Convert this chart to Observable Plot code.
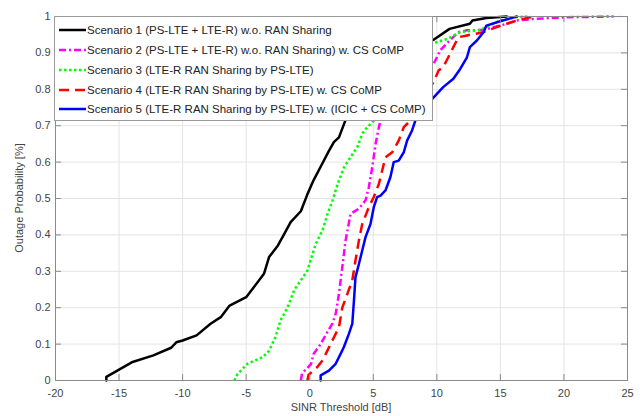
<!DOCTYPE html>
<html>
<head>
<meta charset="utf-8">
<script src="https://cdn.jsdelivr.net/npm/d3@7"></script>
<script src="https://cdn.jsdelivr.net/npm/@observablehq/plot@0.6"></script>
<style>
  html, body { margin: 0; padding: 0; background: #fff; }
  body { font-family: "Liberation Sans", Arial, Helvetica, sans-serif; }
  #wrap { position: relative; width: 642px; height: 416px; overflow: hidden; }
  #legend { position: absolute; left: 54px; top: 16px; width: 379px; height: 105px; box-sizing: border-box;
            border: 1px solid #9a9a9a; background: #fff; padding: 3.5px 0 0 4px; }
  .row { height: 19.75px; display: flex; align-items: center; font-size: 11.5px; color: #222; white-space: nowrap; }
  .row svg { flex: none; margin-right: 1px; }
  #xlabel { position: absolute; left: 0; width: 682px; top: 401px; text-align: center; font-size: 11px; color: #444; }
  #ylabel { position: absolute; left: 19px; top: 198px; font-size: 11px; color: #444; white-space: nowrap;
            transform: translate(-50%, -50%) rotate(-90deg); }
</style>
</head>
<body>
<div id="wrap">
  <div id="chart"></div>
  <div id="legend"></div>
  <div id="xlabel">SINR Threshold [dB]</div>
  <div id="ylabel">Outage Probability [%]</div>
</div>
<script>
// ---- data ----
const xTicks = [-20, -15, -10, -5, 0, 5, 10, 15, 20, 25];
const yTicks = [0, 0.1, 0.2, 0.3, 0.4, 0.5, 0.6, 0.7, 0.8, 0.9, 1];

const seriesNames = [
  "Scenario 1 (PS-LTE + LTE-R) w.o. RAN Sharing",
  "Scenario 2 (PS-LTE + LTE-R) w.o. RAN Sharing) w. CS CoMP",
  "Scenario 3 (LTE-R RAN Sharing by PS-LTE)",
  "Scenario 4 (LTE-R RAN Sharing by PS-LTE) w. CS CoMP",
  "Scenario 5 (LTE-R RAN Sharing by PS-LTE) w. (ICIC + CS CoMP)"
];
const seriesColors = ["#000000", "#ff00ff", "#00ff00", "#ff0000", "#0000ff"];
const seriesDash = [null, "7,3,2,3", "2.5,2.5", "10,6", null];

const s1x = [-16, -16, -14.0, -12.3, -10.9, -10.5, -10.0, -8.9, -7.8, -7.0, -6.3, -5.0, -4.4, -3.6, -3.2, -2.5, -2.0, -1.5, -0.7, -0.2, 0.3, 0.9, 1.5, 1.9, 2.3, 2.8, 3.3, 3.8, 4.5, 5.3, 6.2, 7.2, 8.5, 9.75, 11.0, 12.6, 12.8, 13.9, 15.5];
const s1y = [0, 0.01, 0.05, 0.069, 0.09, 0.105, 0.11, 0.124, 0.156, 0.174, 0.206, 0.229, 0.256, 0.293, 0.339, 0.371, 0.403, 0.435, 0.465, 0.51, 0.55, 0.59, 0.63, 0.655, 0.668, 0.714, 0.76, 0.8, 0.84, 0.87, 0.895, 0.91, 0.925, 0.936, 0.966, 0.98, 0.989, 0.996, 1.0];

const s2x = [-0.7, -0.6, 0.1, 0.3, 0.86, 1.3, 1.78, 2.04, 2.3, 2.56, 2.82, 3.22, 3.87, 4.39, 4.65, 4.92, 5.18, 5.44, 5.7, 6.5, 7.5, 8.5, 9.2, 9.75, 10.27, 11.06, 11.7, 12.37, 13.67, 15.0, 16.3, 17.6, 20.2, 23.9];
const s2y = [0, 0.02, 0.045, 0.073, 0.1, 0.128, 0.156, 0.183, 0.238, 0.311, 0.385, 0.458, 0.472, 0.495, 0.531, 0.586, 0.65, 0.696, 0.733, 0.78, 0.815, 0.84, 0.855, 0.87, 0.907, 0.936, 0.957, 0.962, 0.963, 0.975, 0.989, 0.993, 0.998, 1.0];

const s3x = [-5.94, -5.67, -4.9, -3.7, -3.2, -2.7, -2.3, -1.75, -1.2, -0.7, -0.18, 0.47, 1.0, 1.4, 1.8, 2.2, 2.7, 3.2, 3.74, 4.13, 4.53, 5.04, 6.0, 7.0, 8.0, 9.0, 9.75, 10.8, 11.84, 13.4, 14.98, 16.2, 17.1];
const s3y = [0, 0.018, 0.046, 0.064, 0.082, 0.119, 0.165, 0.2, 0.25, 0.275, 0.302, 0.375, 0.412, 0.458, 0.495, 0.54, 0.586, 0.613, 0.641, 0.678, 0.696, 0.714, 0.78, 0.85, 0.895, 0.915, 0.927, 0.938, 0.957, 0.963, 0.989, 0.998, 1.0];

const s4x = [-0.18, -0.1, 0.6, 1.0, 1.39, 1.78, 2.3, 2.56, 2.96, 3.35, 3.6, 3.87, 4.13, 4.65, 5.04, 5.44, 5.7, 5.96, 6.49, 7.0, 7.4, 7.92, 8.5, 9.2, 9.75, 10.14, 10.5, 10.9, 11.3, 11.7, 12.37, 13.67, 14.7, 15.5, 16.3, 17.6];
const s4y = [0, 0.015, 0.037, 0.055, 0.082, 0.11, 0.146, 0.2, 0.238, 0.275, 0.33, 0.385, 0.43, 0.476, 0.504, 0.54, 0.577, 0.613, 0.627, 0.659, 0.696, 0.714, 0.75, 0.79, 0.82, 0.852, 0.861, 0.888, 0.916, 0.943, 0.948, 0.957, 0.971, 0.98, 0.989, 1.0];

const s5x = [0.86, 0.86, 1.51, 2.04, 2.43, 2.69, 3.08, 3.35, 3.48, 3.6, 3.87, 4.13, 4.39, 4.78, 5.04, 5.3, 5.57, 5.96, 6.35, 6.61, 7.0, 7.4, 7.66, 8.05, 8.31, 9.0, 9.75, 10.5, 11.3, 11.84, 12.37, 12.6, 13.15, 13.67, 13.9, 14.98, 16.3];
const s5y = [0, 0.014, 0.027, 0.046, 0.073, 0.092, 0.128, 0.156, 0.22, 0.284, 0.32, 0.357, 0.394, 0.43, 0.476, 0.504, 0.508, 0.522, 0.559, 0.6, 0.604, 0.627, 0.659, 0.687, 0.714, 0.75, 0.778, 0.806, 0.829, 0.856, 0.888, 0.916, 0.934, 0.957, 0.975, 0.987, 1.0];

// ---- build ----
const xs = [s1x, s2x, s3x, s4x, s5x];
const ys = [s1y, s2y, s3y, s4y, s5y];
const series = xs.map((xarr, i) => xarr.map((x, j) => ({x, y: ys[i][j]})));

const tickLenX = 0.47;   // in dB, ~6px
const tickLenY = 0.0165; // ~6px
const xMin = -20, xMax = 25;

const lineMarks = series.map((data, i) => Plot.line(data, {
  x: "x", y: "y",
  stroke: seriesColors[i],
  strokeWidth: 2.5,
  strokeDasharray: seriesDash[i] || undefined,
  strokeLinecap: seriesDash[i] ? "butt" : "round",
  strokeLinejoin: "round"
}));

const chart = Plot.plot({
  width: 642,
  height: 416,
  marginLeft: 55,
  marginRight: 15,
  marginTop: 16,
  marginBottom: 36,
  style: {fontFamily: "'Liberation Sans', Arial, Helvetica, sans-serif", fontSize: "11px", color: "#444", background: "#fff", overflow: "visible"},
  x: {domain: [xMin, xMax], ticks: xTicks, tickFormat: d => String(d), tickSize: 0, tickPadding: 9, label: null},
  y: {domain: [0, 1], ticks: yTicks, tickFormat: d => String(+d.toFixed(1)), tickSize: 0, tickPadding: 5, label: null},
  marks: [
    Plot.ruleX(xTicks.slice(1, -1), {stroke: "#e4e4e4", strokeWidth: 1}),
    Plot.ruleY(yTicks.slice(1, -1), {stroke: "#e4e4e4", strokeWidth: 1}),
    ...lineMarks,
    Plot.ruleX(xTicks, {y1: 0, y2: tickLenY, stroke: "#8a8a8a"}),
    Plot.ruleX(xTicks, {y1: 1, y2: 1 - tickLenY, stroke: "#8a8a8a"}),
    Plot.ruleY(yTicks, {x1: xMin, x2: xMin + tickLenX, stroke: "#8a8a8a"}),
    Plot.ruleY(yTicks, {x1: xMax, x2: xMax - tickLenX, stroke: "#8a8a8a"}),
    Plot.frame({stroke: "#8a8a8a", strokeWidth: 1})
  ]
});
document.getElementById("chart").appendChild(chart);

// ---- legend ----
const legend = document.getElementById("legend");
seriesNames.forEach((name, i) => {
  const row = document.createElement("div");
  row.className = "row";
  const dash = seriesDash[i] ? ` stroke-dasharray="${seriesDash[i]}"` : "";
  row.innerHTML = `<svg width="27" height="8"><line x1="0" y1="4" x2="27" y2="4" stroke="${seriesColors[i]}" stroke-width="2.5"${dash}/></svg><span>${name}</span>`;
  legend.appendChild(row);
});
</script>
</body>
</html>
